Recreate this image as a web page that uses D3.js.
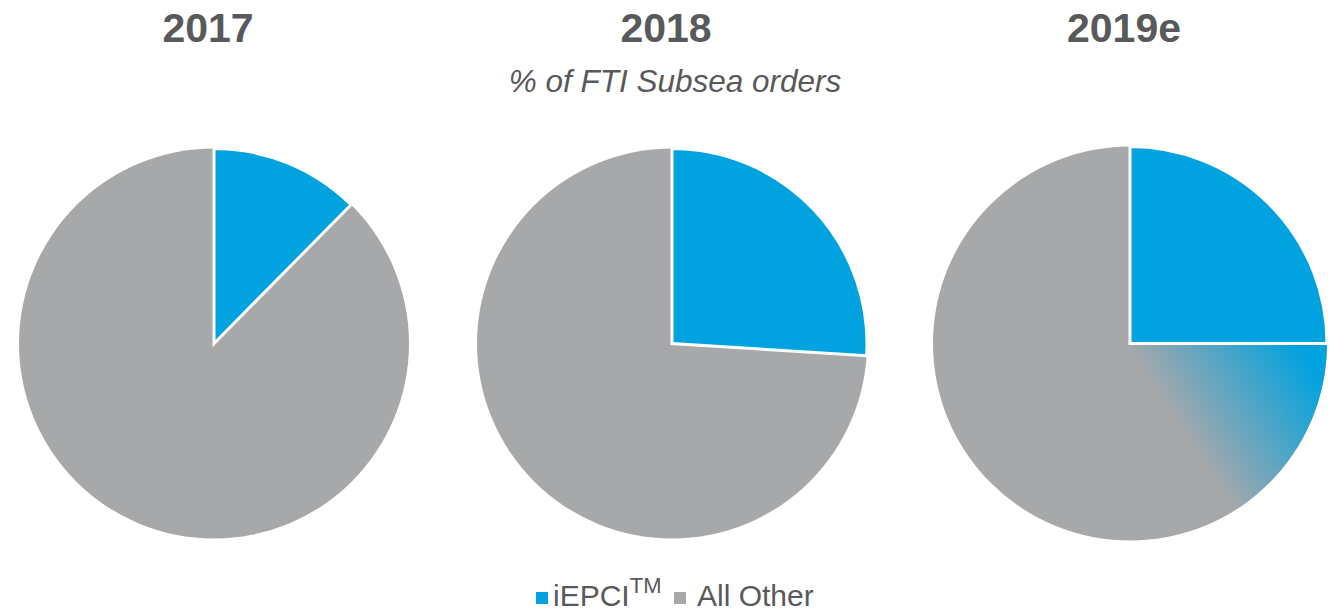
<!DOCTYPE html>
<html>
<head>
<meta charset="utf-8">
<script src="https://cdn.jsdelivr.net/npm/d3@7"></script>
<style>
  html, body { margin: 0; padding: 0; background: #fff; }
  svg { display: block; font-family: "Liberation Sans", Arial, sans-serif; }
</style>
</head>
<body>
<div id="chart"></div>
<script>
const years = ["2017", "2018", "2019e"];
const iepciShare = [12.4, 26, 25];
const upsideShare = [0, 0, 20];
const otherShare = [87.6, 74, 55];
const legendLabels = ["iEPCI", "All Other"];

const width = 1330, height = 611;
const blue = "#00a3df", gray = "#a7a8aa", textColor = "#58595b";

const svg = d3.select("#chart").append("svg")
    .attr("width", width)
    .attr("height", height);

const defs = svg.append("defs");
const grad = defs.append("linearGradient")
    .attr("id", "upside")
    .attr("gradientUnits", "userSpaceOnUse")
    .attr("x1", 45).attr("y1", 80)
    .attr("x2", 168).attr("y2", 0);
grad.append("stop").attr("offset", "0%").attr("stop-color", gray);
grad.append("stop").attr("offset", "100%").attr("stop-color", blue);

const x = d3.scalePoint().domain(years).range([214, 1130]);
const radius = d3.scaleOrdinal().domain(years).range([195, 195, 197]);

const pie = d3.pie().sort(null).value(d => d.value);

years.forEach((yr, i) => {
    const slices = [
        {key: "iepci", value: iepciShare[i]},
        {key: "upside", value: upsideShare[i]},
        {key: "other", value: otherShare[i]}
    ];
    const r = radius(yr);
    const arc = d3.arc().innerRadius(0).outerRadius(r);
    const g = svg.append("g").attr("transform", `translate(${x(yr)},343.5)`);
    const arcs = pie(slices).filter(d => d.data.value > 0);

    // gray base disc so no seam shows where the gradient fades out
    g.append("circle").attr("r", r).attr("fill", gray);

    g.selectAll("path.upside")
        .data(arcs.filter(d => d.data.key === "upside"))
        .enter().append("path")
        .attr("class", "upside")
        .attr("d", arc)
        .attr("fill", "url(#upside)");

    g.selectAll("path.main")
        .data(arcs.filter(d => d.data.key === "iepci"))
        .enter().append("path")
        .attr("class", "main")
        .attr("d", arc)
        .attr("fill", blue)
        .attr("stroke", "#fff")
        .attr("stroke-width", 3);

    svg.append("text")
        .attr("x", x(yr) - 6)
        .attr("y", 42)
        .attr("text-anchor", "middle")
        .attr("font-size", 41)
        .attr("font-weight", "bold")
        .attr("fill", textColor)
        .text(yr);
});

svg.append("text")
    .attr("x", 675)
    .attr("y", 92)
    .attr("text-anchor", "middle")
    .attr("font-size", 31.5)
    .attr("font-style", "italic")
    .attr("fill", textColor)
    .text("% of FTI Subsea orders");

// legend
const legend = svg.append("g");
legend.append("rect").attr("x", 536).attr("y", 592).attr("width", 12).attr("height", 12).attr("fill", blue);
const t1 = legend.append("text")
    .attr("x", 553).attr("y", 606)
    .attr("font-size", 30)
    .attr("fill", textColor);
t1.append("tspan").text(legendLabels[0]);
t1.append("tspan").attr("dy", -13).attr("font-size", 22).text("TM");
legend.append("rect").attr("x", 674).attr("y", 592).attr("width", 12).attr("height", 12).attr("fill", gray);
legend.append("text")
    .attr("x", 697).attr("y", 606)
    .attr("font-size", 30)
    .attr("fill", textColor)
    .text(legendLabels[1]);
</script>
</body>
</html>
